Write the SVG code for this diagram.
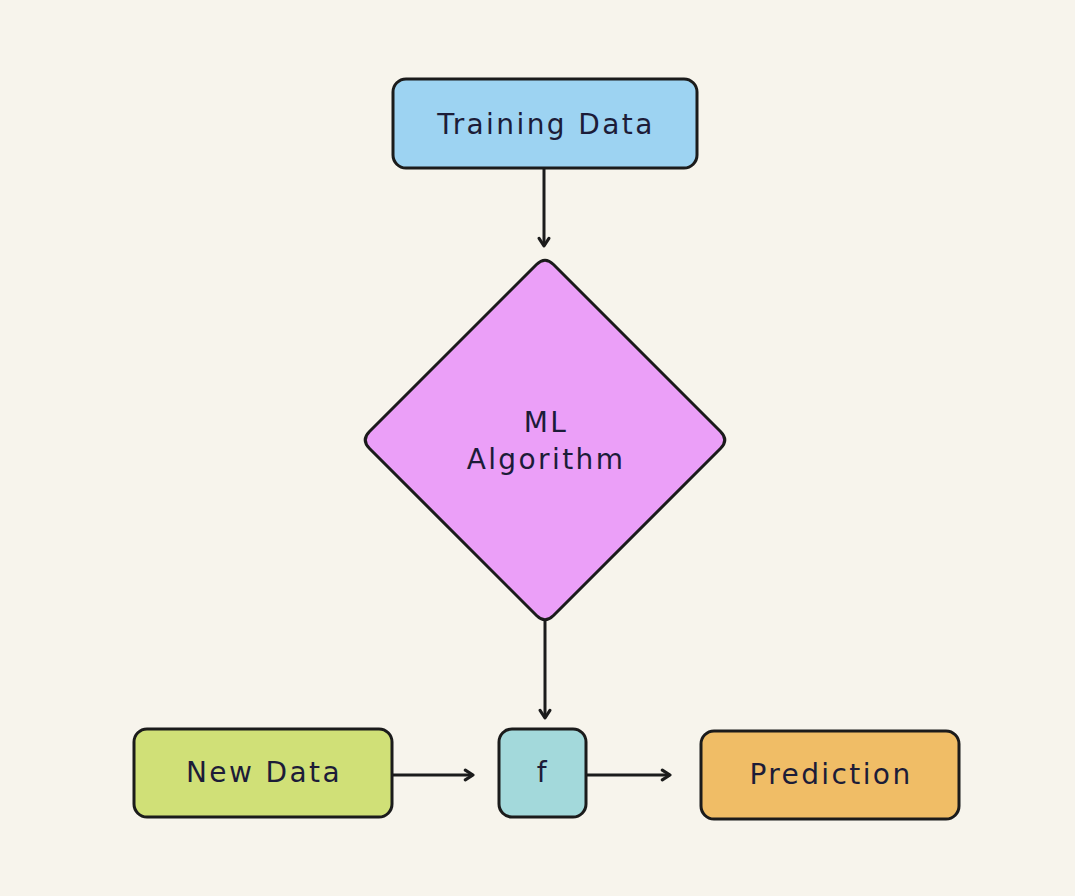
<svg xmlns="http://www.w3.org/2000/svg" width="1075" height="896" viewBox="0 0 1075 896">
<defs>
<style>
.node{stroke:#1b1b1b;stroke-width:3}
.lbl{font-family:"DejaVu Sans","Liberation Sans",sans-serif;font-size:28px;fill:#1c1c38;text-anchor:middle;letter-spacing:2.4px}
.edge{stroke:#1b1b1b;stroke-width:3;fill:none;marker-end:url(#arr)}
</style>
<marker id="arr" viewBox="0 0 10 10" refX="8.5" refY="5" markerWidth="14" markerHeight="14" orient="auto" markerUnits="userSpaceOnUse">
<path d="M3 1.5 L8.5 5 L3 8.5" fill="none" stroke="#1b1b1b" stroke-width="2.2" stroke-linecap="round" stroke-linejoin="round"/>
</marker>
</defs>
<rect width="1075" height="896" fill="#f7f4ec"/>
<g id="connectors">
<path class="edge" d="M544 168 L544 246"/>
<path class="edge" d="M545 621 L545 718"/>
<path class="edge" d="M392 775 L473 775"/>
<path class="edge" d="M586 775 L670 775"/>
</g>
<g id="training-data">
<rect class="node" x="393" y="79" width="304" height="89" rx="13" fill="#9dd3f2"/>
<text class="lbl" x="546" y="134">Training Data</text>
</g>
<g id="ml-algorithm">
<path class="node" fill="#eb9ff8" d="M553.5 264.5 L720.5 431.5 Q729 440 720.5 448.5 L553.5 615.5 Q545 624 536.5 615.5 L369.5 448.5 Q361 440 369.5 431.5 L536.5 264.5 Q545 256 553.5 264.5 Z"/>
<text class="lbl" x="546" y="432">ML</text>
<text class="lbl" x="546" y="469">Algorithm</text>
</g>
<g id="new-data">
<rect class="node" x="134" y="729" width="258" height="88" rx="13" fill="#d0e077"/>
<text class="lbl" x="264" y="782">New Data</text>
</g>
<g id="f">
<rect class="node" x="499" y="729" width="87" height="88" rx="13" fill="#a3d9db"/>
<text class="lbl" x="543" y="782">f</text>
</g>
<g id="prediction">
<rect class="node" x="701" y="731" width="258" height="88" rx="13" fill="#f0bd66"/>
<text class="lbl" x="831" y="784">Prediction</text>
</g>
</svg>
